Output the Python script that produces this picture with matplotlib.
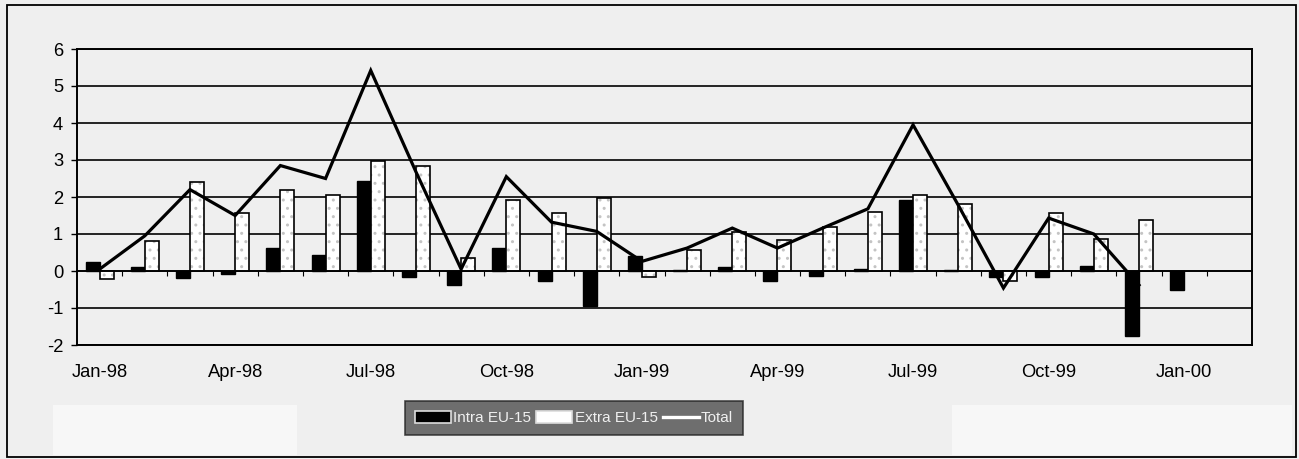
import numpy as np
import matplotlib
matplotlib.use("Agg")
import matplotlib.pyplot as plt
from matplotlib.patches import Rectangle, Patch
from matplotlib.lines import Line2D

nan = np.nan
months = ["Jan-98", "Feb-98", "Mar-98", "Apr-98", "May-98", "Jun-98", "Jul-98", "Aug-98",
          "Sep-98", "Oct-98", "Nov-98", "Dec-98", "Jan-99", "Feb-99", "Mar-99", "Apr-99",
          "May-99", "Jun-99", "Jul-99", "Aug-99", "Sep-99", "Oct-99", "Nov-99", "Dec-99",
          "Jan-00", "Feb-00"]
intra = [0.25, 0.10, -0.20, -0.07, 0.62, 0.44, 2.42, -0.16, -0.37, 0.62, -0.28, -0.94,
         0.40, 0.02, 0.10, -0.28, -0.13, 0.06, 1.91, 0.03, -0.15, -0.16, 0.14, -1.75,
         -0.52, nan]
extra = [-0.22, 0.80, 2.40, 1.58, 2.20, 2.05, 2.96, 2.85, 0.35, 1.93, 1.58, 1.97,
         -0.16, 0.58, 1.05, 0.85, 1.19, 1.60, 2.06, 1.82, -0.28, 1.58, 0.86, 1.37,
         nan, nan]
total = [0.05, 0.95, 2.20, 1.50, 2.85, 2.50, 5.42, 2.68, 0.05, 2.55, 1.32, 1.07,
         0.26, 0.62, 1.16, 0.62, 1.16, 1.68, 3.95, 1.78, -0.46, 1.43, 1.00, -0.38,
         nan, nan]
yticks = [-2, -1, 0, 1, 2, 3, 4, 5, 6]
label_every = 3
series_names = ["Intra EU-15", "Extra EU-15", "Total"]

plt.rcParams['font.family'] = ['Liberation Sans', 'DejaVu Sans']
plt.rcParams['axes.unicode_minus'] = False
BG = '#efefef'

fig = plt.figure(figsize=(12.99, 4.59), dpi=100, facecolor=BG)
# scan-like lighter patches at bottom
fig.patches.append(Rectangle((53/1299, 4/459), 244/1299, 50/459, transform=fig.transFigure,
                             facecolor='#f7f7f7', edgecolor='none', zorder=0))
fig.patches.append(Rectangle((952/1299, 4/459), 340/1299, 50/459, transform=fig.transFigure,
                             facecolor='#f7f7f7', edgecolor='none', zorder=0))
# outer frame
fig.patches.append(Rectangle((7/1299, 2/459), 1289/1299, 452/459, transform=fig.transFigure,
                             facecolor='none', edgecolor='black', linewidth=1.3, zorder=5))

ax = fig.add_axes([77/1299, 114/459, 1175/1299, 296/459])
ax.set_facecolor(BG)

x = np.arange(len(months))
w = 0.31
off = 0.155

ax.bar(x - off, intra, width=w, color='black', edgecolor='black', linewidth=1.0, zorder=3)
# extra: light stipple + outline
ax.bar(x + off, extra, width=w, color='white', edgecolor='#c4c4c4', linewidth=0,
       hatch='..', zorder=3)
ax.bar(x + off, extra, width=w, fill=False, edgecolor='black', linewidth=1.2, zorder=3.1)
ax.plot(x, total, color='black', linewidth=2.3, zorder=4, solid_joinstyle='miter')

ax.set_xlim(-0.5, len(months) - 0.5)
ax.set_ylim(yticks[0], yticks[-1])
ax.set_yticks(yticks)
ax.yaxis.grid(True, color='black', linewidth=1.2, zorder=1)
ax.set_axisbelow(True)
for s in ax.spines.values():
    s.set_linewidth(1.4)
    s.set_color('black')
ax.tick_params(axis='y', length=4, width=1.0, pad=6, labelsize=13.2, direction='out')

lab_idx = list(range(0, len(months), label_every))
ax.set_xticks(lab_idx)
ax.set_xticklabels([months[i] for i in lab_idx])
ax.tick_params(axis='x', length=0, pad=14, labelsize=13.2)

# category boundary tick marks on the zero axis
ax2 = ax.twiny()
ax2.set_xlim(ax.get_xlim())
ax2.xaxis.set_ticks_position('bottom')
ax2.spines['bottom'].set_position(('data', 0))
for k in ['top', 'left', 'right']:
    ax2.spines[k].set_visible(False)
ax2.spines['bottom'].set_linewidth(1.2)
ax2.set_xticks(np.arange(0.5, len(months) - 0.5, 1.0))
ax2.set_xticklabels([])
ax2.tick_params(axis='x', length=3.5, width=0.8, direction='out')
ax2.patch.set_visible(False)

handles = [Patch(facecolor='black', edgecolor='#dddddd', linewidth=1.2),
           Patch(facecolor='white', edgecolor='#dddddd', linewidth=1.2),
           Line2D([0], [0], color='white', linewidth=2.4)]
leg = fig.legend(handles, series_names, loc='center', bbox_to_anchor=(574/1299, 1 - 418/459),
                 ncol=3, frameon=True, fontsize=11, handlelength=2.35, handleheight=0.9,
                 handletextpad=0.15, columnspacing=0.35, borderpad=0.62, borderaxespad=0,
                 fancybox=False)
leg.get_frame().set_facecolor('#4e4e4e')
leg.get_frame().set_edgecolor('#222222')
leg.get_frame().set_linewidth(1.2)
for t in leg.get_texts():
    t.set_color('#f0f0f0')

fig.savefig('out.png', dpi=100, facecolor=BG)
